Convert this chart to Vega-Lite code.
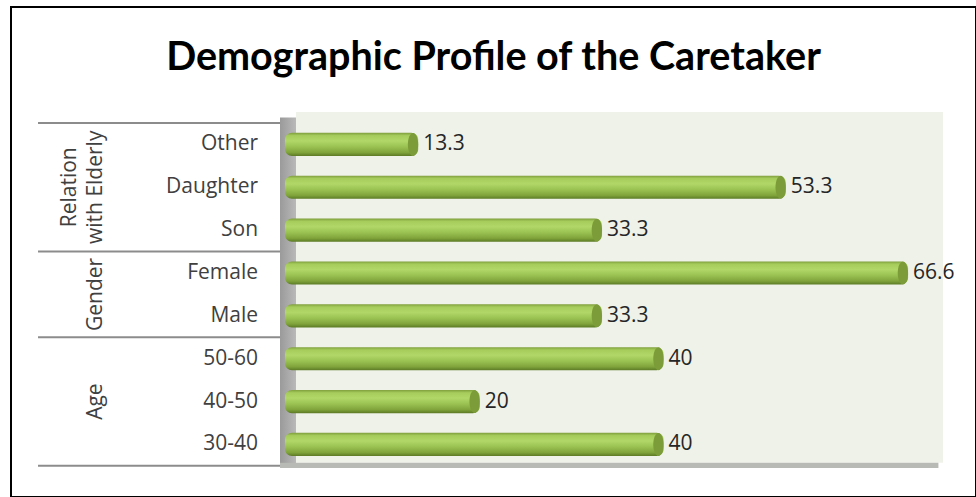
{
  "$schema": "https://vega.github.io/schema/vega-lite/v6.json",
  "width": 965,
  "height": 490,
  "autosize": "none",
  "padding": {"left": 11, "top": 7, "right": 0, "bottom": 0},
  "background": "white",
  "config": {"view": {"stroke": "#000000", "strokeWidth": 2}, "font": "Open Sans"},
  "title": {"text": "Demographic Profile of the Caretaker", "font": "Lato", "fontSize": 39.5, "fontWeight": "bold", "color": "#000000", "anchor": "middle", "offset": -102, "baseline": "alphabetic"},
  "datasets": {
    "main": [
      {"group": "Relation with Elderly", "cat": "Other", "value": 13.3},
      {"group": "Relation with Elderly", "cat": "Daughter", "value": 53.3},
      {"group": "Relation with Elderly", "cat": "Son", "value": 33.3},
      {"group": "Gender", "cat": "Female", "value": 66.6},
      {"group": "Gender", "cat": "Male", "value": 33.3},
      {"group": "Age", "cat": "50-60", "value": 40},
      {"group": "Age", "cat": "40-50", "value": 20},
      {"group": "Age", "cat": "30-40", "value": 40}
    ],
    "groupTops": [{"cat": "Other"}, {"cat": "Female"}, {"cat": "50-60"}],
    "one": [{}]
  },
  "data": {"name": "main"},
  "layer": [
    {
      "data": {"name": "one"},
      "mark": {"type": "rect", "fill": "#eff2e9"},
      "encoding": {
        "x": {"datum": 0, "type": "quantitative", "scale": {"domain": [-31.01, 73.99], "nice": false, "zero": false}, "axis": null},
        "x2": {"datum": 70.4},
        "y": {"datum": "Other", "type": "nominal", "bandPosition": -0.257, "scale": {"domain": ["Other", "Daughter", "Son", "Female", "Male", "50-60", "40-50", "30-40"], "range": [116, 458.86], "paddingInner": 0, "paddingOuter": 0}, "axis": null},
        "y2": {"datum": "30-40", "bandPosition": 0.93}
      }
    },
    {
      "data": {"name": "one"},
      "mark": {"type": "rect", "fill": {"gradient": "linear", "x1": 0, "y1": 0, "x2": 1, "y2": 0, "stops": [{"offset": 0, "color": "#9a9a9a"}, {"offset": 1, "color": "#b9b9b9"}]}},
      "encoding": {
        "x": {"datum": -1.74, "type": "quantitative"},
        "x2": {"datum": 0},
        "y": {"datum": "Other", "type": "nominal", "bandPosition": -0.13},
        "y2": {"datum": "30-40", "bandPosition": 1.05}
      }
    },
    {
      "data": {"name": "one"},
      "mark": {"type": "rect", "fill": "#b8bab5"},
      "encoding": {
        "x": {"datum": -1.74, "type": "quantitative"},
        "x2": {"datum": 69.9},
        "y": {"datum": "30-40", "type": "nominal", "bandPosition": 0.93},
        "y2": {"datum": "30-40", "bandPosition": 1.05}
      }
    },
    {
      "data": {"name": "groupTops"},
      "mark": {"type": "rule", "stroke": "#8c8c8c", "strokeWidth": 2},
      "encoding": {
        "x": {"datum": -28.07, "type": "quantitative"},
        "x2": {"datum": -1.74},
        "y": {"field": "cat", "type": "nominal", "bandPosition": 0}
      }
    },
    {
      "data": {"name": "one"},
      "mark": {"type": "rule", "stroke": "#8c8c8c", "strokeWidth": 2},
      "encoding": {
        "x": {"datum": -28.07, "type": "quantitative"},
        "x2": {"datum": -1.74},
        "y": {"datum": "30-40", "type": "nominal", "bandPosition": 1}
      }
    },
    {
      "mark": {"type": "bar", "height": {"band": 0.54}, "cornerRadius": 7, "fill": {"gradient": "linear", "x1": 0, "y1": 0, "x2": 0, "y2": 1, "stops": [{"offset": 0, "color": "#7f9f3c"}, {"offset": 0.12, "color": "#a6cc5c"}, {"offset": 0.35, "color": "#b0d767"}, {"offset": 0.6, "color": "#9ac252"}, {"offset": 0.85, "color": "#80a33b"}, {"offset": 1, "color": "#5c7a25"}]}},
      "encoding": {
        "x": {"field": "value", "type": "quantitative"},
        "x2": {"datum": -1.2},
        "y": {"field": "cat", "type": "nominal"}
      }
    },
    {
      "mark": {"type": "point", "shape": "M-0.45,-1A0.45,1,0,1,1,-0.45,1A0.45,1,0,1,1,-0.45,-1Z", "size": 530, "filled": true, "fill": "#7c9c39", "opacity": 1, "strokeWidth": 0},
      "encoding": {
        "x": {"field": "value", "type": "quantitative"},
        "y": {"field": "cat", "type": "nominal"}
      }
    },
    {
      "mark": {"type": "text", "align": "left", "baseline": "middle", "dx": 5, "fontSize": 21, "color": "#262626"},
      "encoding": {
        "x": {"field": "value", "type": "quantitative"},
        "y": {"field": "cat", "type": "nominal"},
        "text": {"field": "value", "type": "quantitative"}
      }
    },
    {
      "mark": {"type": "text", "align": "right", "baseline": "middle", "fontSize": 21, "color": "#404040"},
      "encoding": {
        "x": {"datum": -4.13, "type": "quantitative"},
        "y": {"field": "cat", "type": "nominal"},
        "text": {"field": "cat", "type": "nominal"}
      }
    },
    {
      "data": {"values": [{"group": "Relation\nwith Elderly"}]},
      "mark": {"type": "text", "align": "center", "baseline": "middle", "angle": 270, "fontSize": 21, "lineBreak": "\n", "lineHeight": 26, "color": "#404040"},
      "encoding": {
        "x": {"datum": -24.59, "type": "quantitative"},
        "y": {"datum": "Daughter", "type": "nominal", "bandPosition": 0.5},
        "text": {"field": "group", "type": "nominal"}
      }
    },
    {
      "data": {"values": [{"group": "Gender"}]},
      "mark": {"type": "text", "align": "center", "baseline": "middle", "angle": 270, "fontSize": 21, "color": "#404040"},
      "encoding": {
        "x": {"datum": -21.76, "type": "quantitative"},
        "y": {"datum": "Female", "type": "nominal", "bandPosition": 1},
        "text": {"field": "group", "type": "nominal"}
      }
    },
    {
      "data": {"values": [{"group": "Age"}]},
      "mark": {"type": "text", "align": "center", "baseline": "middle", "angle": 270, "fontSize": 21, "color": "#404040"},
      "encoding": {
        "x": {"datum": -21.76, "type": "quantitative"},
        "y": {"datum": "40-50", "type": "nominal", "bandPosition": 0.5},
        "text": {"field": "group", "type": "nominal"}
      }
    }
  ]
}
